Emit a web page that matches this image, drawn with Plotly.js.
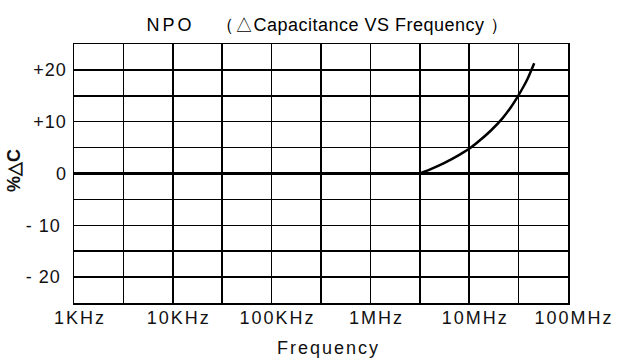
<!DOCTYPE html>
<html><head><meta charset="utf-8">
<script src="https://cdn.plot.ly/plotly-3.0.1.min.js"></script>
<style>
html,body{margin:0;padding:0;background:#fff}
#c{width:628px;height:364px}
#c .xtick text{letter-spacing:2px}
#c .ytick text{letter-spacing:1px}
#c .gtitle{letter-spacing:0.5px}
</style>
</head><body><div id="c"></div>
<script>
// Frequency in Hz, capacitance change in %
const freqHz = [3.16e6, 3.98e6, 5.56e6, 7.94e6, 1.04e7, 1.32e7, 1.66e7, 2.18e7, 2.62e7, 3.13e7, 3.55e7, 3.90e7, 4.55e7];
const deltaC = [0, 0.75, 2.0, 3.6, 5.0, 6.6, 8.3, 10.7, 12.7, 15.0, 16.8, 18.3, 21.3];
const xTickVals = [1e3, 3162, 1e4, 31623, 1e5, 316228, 1e6, 3162278, 1e7, 31622777, 1e8];
const xTickText = ["1KHz", "", "10KHz", "", "100KHz", "", "1MHz", "", "10MHz", "", "100MHz"];
const yTickVals = [-20, -15, -10, -5, 0, 5, 10, 15, 20];
const yTickText = ["- 20\u00a0", "", "- 10\u00a0", "", "0", "", "+10", "", "+20"];

const FAM = "Liberation Sans, Arial, sans-serif";
const font = {family: FAM, size: 18, color: "#111"};
Plotly.newPlot("c", [{
  x: freqHz, y: deltaC, type: "scatter", mode: "lines",
  line: {color: "#000", width: 2.5, shape: "spline", smoothing: 0.8}, hoverinfo: "skip"
}], {
  width: 628, height: 364,
  margin: {l: 74, r: 60, t: 44, b: 61},
  paper_bgcolor: "#fff", plot_bgcolor: "#fff",
  showlegend: false, font: font,
  title: {text: "<span style=\"letter-spacing:3px\">NPO</span>\u00a0\u00a0\u00a0\u00a0（△Capacitance VS Frequency ）",
          x: 0.5215, xanchor: "center", xref: "container", y: 0.932, yanchor: "middle", yref: "container",
          font: {family: FAM, size: 18, color: "#000"}},
  xaxis: {
    type: "log", range: [3, 8], tickmode: "array", tickvals: xTickVals, ticktext: xTickText,
    showgrid: true, gridcolor: "#000", gridwidth: 1.5,
    showline: true, linecolor: "#000", linewidth: 1.5, mirror: true,
    ticks: "", tickfont: font, ticklabelshift: 6, ticklabelstandoff: -2,
    zeroline: false, fixedrange: true
  },
  yaxis: {
    range: [-25, 25], tickmode: "array", tickvals: yTickVals, ticktext: yTickText,
    showgrid: true, gridcolor: "#000", gridwidth: 1.5,
    zeroline: true, zerolinecolor: "#000", zerolinewidth: 2.5,
    showline: true, linecolor: "#000", linewidth: 1.5, mirror: true,
    ticks: "", tickfont: font, ticklabelstandoff: 2,
    fixedrange: true
  },
  annotations: [
    {text: "Frequency", xref: "paper", yref: "paper", x: 0.516, y: -0.174, xanchor: "center", yanchor: "middle",
     showarrow: false, font: font},
    {text: "<b>%△C</b>", xref: "paper", yref: "paper", x: -0.1215, y: 0.5135, xanchor: "center", yanchor: "middle",
     textangle: -90, showarrow: false, font: font}
  ]
}, {displayModeBar: false, staticPlot: true}).then(function(gd){
  // widen the spacing of the axis caption like the reference lettering
  const a = gd.querySelectorAll(".annotation-text");
  if (a.length) a[0].style.letterSpacing = "2px";
});
</script></body></html>
